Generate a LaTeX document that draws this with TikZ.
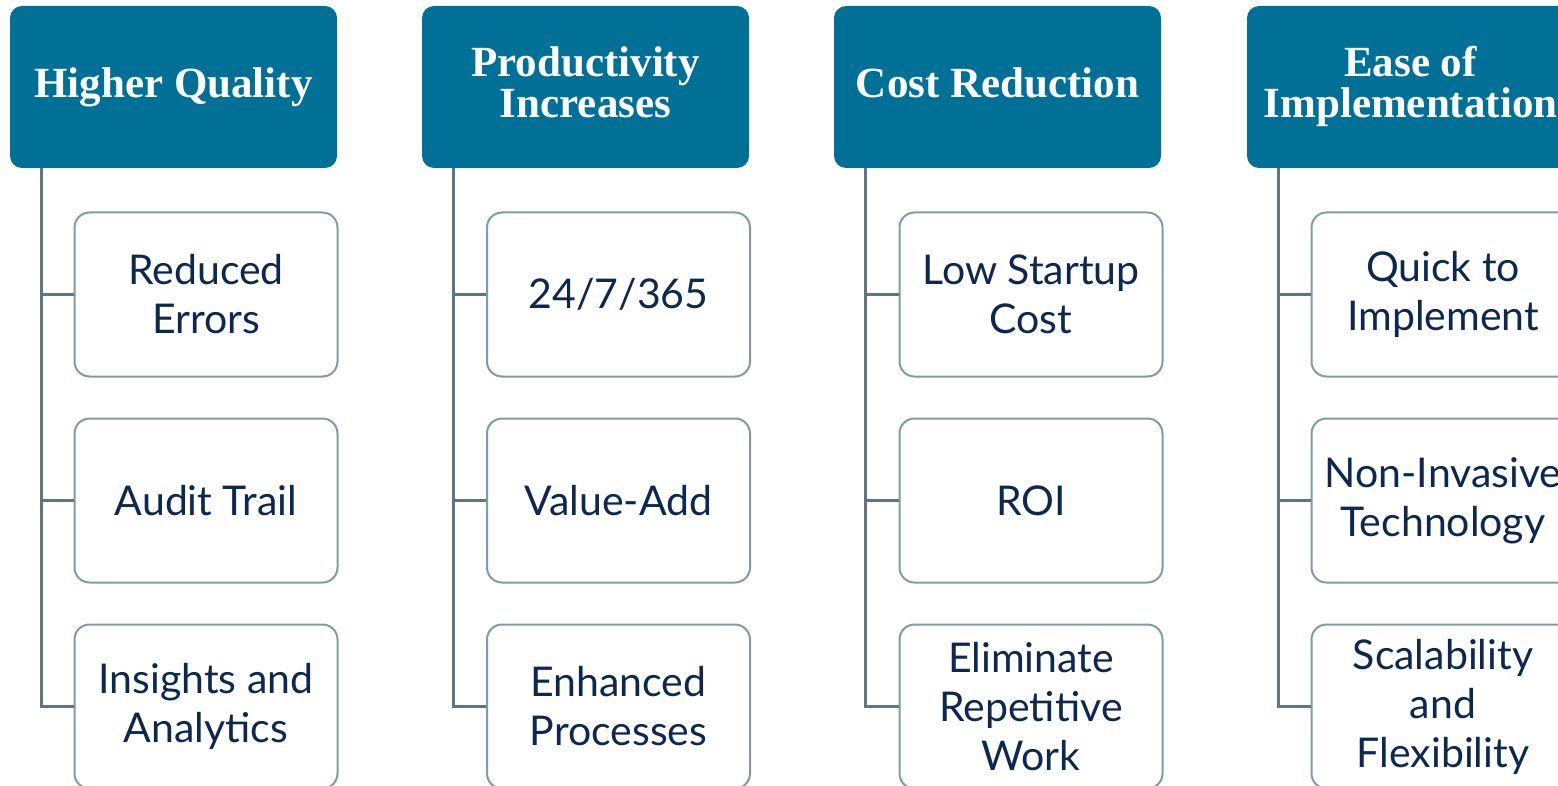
\documentclass[tikz,border=0pt]{standalone}
\usepackage{fontspec}
\newfontfamily\headfont{Liberation Serif}[BoldFont={* Bold}]
\newfontfamily\bodyfont{Lato}
\definecolor{headfill}{RGB}{0,112,150}
\definecolor{boxline}{RGB}{126,156,168}
\definecolor{connline}{RGB}{94,118,130}
\definecolor{bodytext}{RGB}{12,40,80}
\begin{document}
\begin{tikzpicture}[x=1pt,y=-1pt,
  headbox/.style={rectangle, rounded corners=12pt, fill=headfill, draw=none,
    minimum width=327pt, minimum height=162pt, inner sep=0pt, align=center,
    text=white, font=\headfont\bfseries\fontsize{43}{41}\selectfont},
  childbox/.style={rectangle, rounded corners=15pt, fill=white, draw=boxline, line width=2pt,
    minimum width=263pt, minimum height=164pt, inner sep=0pt, align=center,
    text=bodytext, font=\bodyfont\fontsize{41}{49}\selectfont},
  conn/.style={draw=connline, line width=2.5pt}]
\useasboundingbox (0,0) rectangle (1558,786);
\fill[white] (0,0) rectangle (1558,786);
% column 1
\node[headbox] (h1) at (173.5,87) {Higher Quality};
\node[childbox] (c11) at (206,294.5) {Reduced\\Errors};
\node[childbox] (c12) at (206,500.5) {Audit Trail};
\node[childbox] (c13) at (206,706.5) {Insights and\\Analytics};
% column 2
\node[headbox] (h2) at (585.5,87) {Productivity\\Increases\vphantom{y}};
\node[childbox] (c21) at (618.5,294.5) {24/7/365};
\node[childbox] (c22) at (618.5,500.5) {Value-Add};
\node[childbox] (c23) at (618.5,706.5) {Enhanced\\Processes};
% column 3
\node[headbox] (h3) at (997.5,87) {Cost Reduction\vphantom{y}};
\node[childbox] (c31) at (1031,294.5) {Low Startup\\Cost};
\node[childbox] (c32) at (1031,500.5) {ROI};
\node[childbox] (c33) at (1031,706.5) {Eliminate\\Repetitive\\Work};
% column 4
\node[headbox] (h4) at (1410.5,87) {Ease of\\Implementation\vphantom{y}};
\node[childbox] (c41) at (1443,294.5) {Quick to\\Implement};
\node[childbox] (c42) at (1443,500.5) {Non-Invasive\\Technology};
\node[childbox] (c43) at (1443,706.5) {Scalability\\and\\Flexibility};
% connectors
\foreach \i in {1,2,3,4}{
  \coordinate (t\i) at ([xshift=31.5pt]h\i.south west);
  \draw[conn] (t\i) |- (c\i3.west);
  \draw[conn] (t\i |- c\i1.west) -- (c\i1.west);
  \draw[conn] (t\i |- c\i2.west) -- (c\i2.west);
}
\end{tikzpicture}
\end{document}
